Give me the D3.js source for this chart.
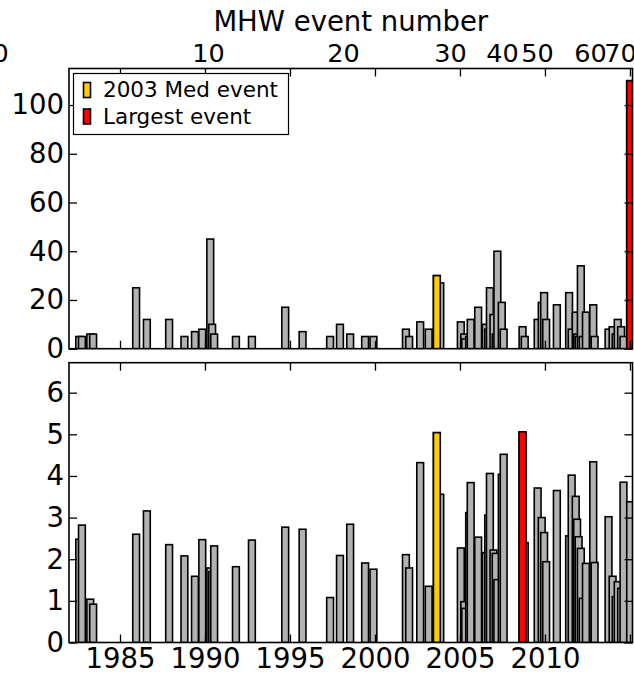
<!DOCTYPE html>
<html>
<head>
<script src="https://d3js.org/d3.v7.min.js"></script>
<style>
  body { margin: 0; background: #fff; }
  svg text { font-family: "DejaVu Sans", sans-serif; }
</style>
</head>
<body>
<svg id="chart" width="634" height="676"></svg>
<script>
// MHW events: start date (decimal year), duration (days), max intensity (degC)
const startYear = [1982.40,1982.56,1983.05,1983.22,1985.75,1986.38,1987.69,1988.59,1989.21,1989.64,
  1990.11,1990.22,1990.34,1991.62,1992.56,1994.52,1995.54,1997.16,1997.74,1998.34,
  1999.22,1999.71,2001.62,2001.81,2002.46,2002.96,2003.44,2003.64,2004.85,2005.05,
  2005.11,2005.34,2005.43,2005.87,2006.32,2006.46,2006.56,2006.77,2006.90,2007.00,
  2007.26,2007.37,2008.48,2008.61,2009.37,2009.61,2009.75,2009.87,2010.50,2011.22,
  2011.37,2011.61,2011.69,2011.78,2011.91,2012.02,2012.21,2012.64,2012.72,2013.54,
  2013.78,2013.96,2014.08,2014.28,2014.42,2014.81];
const duration = [5,5,6,6,25,12,12,5,7,8,
  45,10,6,5,5,17,7,5,10,6,
  5,5,8,5,11,8,30,27,11,6,
  4,5,12,17,10,8,25,14,6,40,
  19,8,9,5,12,19,23,12,18,23,
  8,15,6,5,34,5,15,18,5,8,
  9,6,12,9,5,110];
const intensity = [2.48,2.82,1.04,0.92,2.60,3.16,2.35,2.08,1.59,2.47,
  1.79,1.70,2.32,1.82,2.46,2.77,2.72,1.08,2.09,2.84,
  1.91,1.76,2.11,1.79,4.32,1.35,5.04,3.56,2.27,0.98,
  0.82,3.12,3.84,2.53,2.16,3.06,4.06,2.22,2.14,1.51,
  4.04,4.52,5.06,2.40,3.71,3.00,2.64,1.94,3.65,2.56,
  4.02,3.51,2.96,2.54,2.26,1.06,1.90,4.34,1.92,3.02,
  1.59,1.10,1.46,1.30,3.85,3.38];
const medEvent = 26; // the 2003 Med event

const yearTicks = [1985, 1990, 1995, 2000, 2005, 2010, 2015];
const yearLabels = ["1985", "1990", "1995", "2000", "2005", "2010", ""];
const eventTickLabels = [0, 10, 20, 30, 40, 50, 60, 70];
const eventTickYears = [1977.94, 1990.18, 1998.12, 2004.41, 2007.47, 2009.53, 2012.65, 2014.41];
const durTicks = [0, 20, 40, 60, 80, 100];
const intTicks = [0, 1, 2, 3, 4, 5, 6];
const legendLabels = ["2003 Med event", "Largest event"];

const barWidth = 0.4; // years
const grey = "rgb(178,178,178)", yellow = "#ffcc00", red = "#ff0000";
const fontSize = 27.5;

const svg = d3.select("#chart");
const x = d3.scaleLinear().domain([1982, 2015.15]).range([69, 632.5]);

function panel(id, values, yDomain, yRange, yTicks, showYears) {
  const y = d3.scaleLinear().domain(yDomain).range(yRange);
  const g = svg.append("g");
  const top = yRange[1], bottom = yRange[0];

  g.append("clipPath").attr("id", id)
    .append("rect")
    .attr("x", x.range()[0]).attr("y", top)
    .attr("width", x.range()[1] - x.range()[0]).attr("height", bottom - top);

  const big = d3.maxIndex(values);
  const order = d3.range(values.length).concat([medEvent, big]);

  g.append("g").attr("clip-path", "url(#" + id + ")")
    .selectAll("rect")
    .data(order)
    .enter()
    .append("rect")
    .attr("x", i => x(startYear[i]))
    .attr("width", i => x(startYear[i] + barWidth) - x(startYear[i]))
    .attr("y", i => y(values[i]))
    .attr("height", i => y(0) - y(values[i]))
    .attr("fill", (i, k) => k < values.length ? grey : (i === big ? red : yellow))
    .attr("stroke", "black")
    .attr("stroke-width", 1.6);

  function style(a) {
    a.select(".domain").remove();
    a.attr("font-size", fontSize).attr("font-family", "DejaVu Sans, sans-serif");
    a.selectAll(".tick line").attr("stroke-width", 1.3);
    a.selectAll(".tick text").attr("fill", "black");
  }

  g.append("g").attr("transform", "translate(" + x.range()[0] + ",0)")
    .call(d3.axisLeft(y).tickValues(yTicks).tickSize(-8).tickPadding(5).tickFormat(d3.format("d")))
    .call(style);
  g.append("g").attr("transform", "translate(" + x.range()[1] + ",0)")
    .call(d3.axisRight(y).tickValues(yTicks).tickSize(-8).tickFormat(""))
    .call(style);
  g.append("g").attr("transform", "translate(0," + bottom + ")")
    .call(d3.axisBottom(x).tickValues(yearTicks).tickSize(-8).tickPadding(6)
      .tickFormat((d, i) => showYears ? yearLabels[i] : ""))
    .call(style);
  g.append("g").attr("transform", "translate(0," + top + ")")
    .call(d3.axisTop(x).tickValues(yearTicks).tickSize(-8).tickFormat(""))
    .call(style);

  g.append("rect")
    .attr("x", x.range()[0]).attr("y", top)
    .attr("width", x.range()[1] - x.range()[0]).attr("height", bottom - top)
    .attr("fill", "none").attr("stroke", "black").attr("stroke-width", 1.6);
  return g;
}

const g1 = panel("clipTop", duration, [0, 115], [348.7, 68.5], durTicks, false);
panel("clipBottom", intensity, [0, 6.72], [642.5, 362.7], intTicks, true);

// MHW event number axis on top
g1.append("g").attr("transform", "translate(0,68.5)")
  .call(d3.axisTop(x).tickValues(eventTickYears).tickSize(0).tickPadding(7)
    .tickFormat((d, i) => eventTickLabels[i]))
  .call(a => {
    a.select(".domain").remove();
    a.attr("font-size", 25.5).attr("font-family", "DejaVu Sans, sans-serif");
    a.selectAll(".tick text").attr("fill", "black");
  });

svg.append("text")
  .attr("x", (x.range()[0] + x.range()[1]) / 2)
  .attr("y", 31)
  .attr("text-anchor", "middle")
  .attr("font-size", fontSize)
  .text("MHW event number");

// legend
const legend = svg.append("g");
legend.append("rect")
  .attr("x", 73.5).attr("y", 73.5).attr("width", 215).attr("height", 61)
  .attr("fill", "white").attr("stroke", "black").attr("stroke-width", 1.2);
legendLabels.forEach(function(label, i) {
  legend.append("rect")
    .attr("x", 83.5).attr("y", 82.5 + i * 26.5).attr("width", 7).attr("height", 15)
    .attr("fill", i === 0 ? yellow : red)
    .attr("stroke", "black").attr("stroke-width", 1.6);
  legend.append("text")
    .attr("x", 103).attr("y", 97 + i * 26.5)
    .attr("font-size", 21.5)
    .text(label);
});
</script>
</body>
</html>
